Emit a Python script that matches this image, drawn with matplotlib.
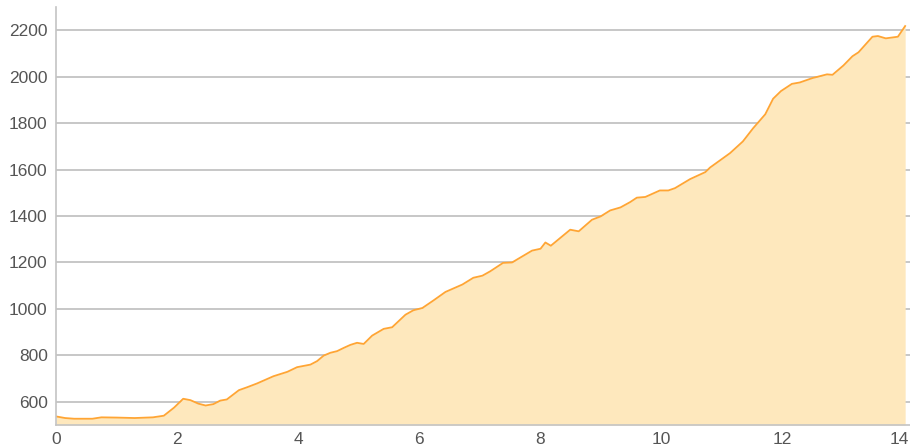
import matplotlib.pyplot as plt
import matplotlib.transforms as mtransforms

# --- Elevation profile (distance in km, elevation in m) ---
distance = [0.00, 0.15, 0.30, 0.60, 0.75, 1.00, 1.30, 1.60, 1.78, 1.95,
            2.10, 2.22, 2.35, 2.47, 2.60, 2.71, 2.82, 2.92, 3.02, 3.16,
            3.32, 3.59, 3.82, 3.98, 4.20, 4.31, 4.42, 4.53, 4.64, 4.75,
            4.86, 4.97, 5.08, 5.22, 5.41, 5.55, 5.77, 5.90, 6.05, 6.23,
            6.43, 6.71, 6.89, 7.04, 7.17, 7.38, 7.53, 7.86, 8.00, 8.08,
            8.17, 8.49, 8.63, 8.85, 8.99, 9.15, 9.32, 9.48, 9.59, 9.73,
            9.97, 10.11, 10.22, 10.47, 10.72, 10.80, 10.96, 11.13, 11.34, 11.51,
            11.71, 11.84, 11.97, 12.15, 12.28, 12.49, 12.73, 12.82, 13.00, 13.15,
            13.25, 13.48, 13.57, 13.70, 13.90, 14.02]
elevation = [537, 530, 527, 527, 533, 532, 530, 533, 540, 575,
             613, 607, 592, 584, 590, 605, 610, 630, 650, 663,
             679, 710, 729, 749, 760, 775, 799, 811, 818, 832,
             845, 854, 849, 885, 914, 921, 975, 994, 1004, 1036,
             1073, 1105, 1134, 1143, 1162, 1198, 1200, 1251, 1259, 1286,
             1272, 1341, 1334, 1384, 1398, 1424, 1437, 1460, 1479, 1482,
             1510, 1510, 1520, 1559, 1589, 1609, 1639, 1671, 1721, 1778,
             1838, 1905, 1938, 1969, 1975, 1994, 2010, 2008, 2048, 2088,
             2105, 2172, 2175, 2165, 2172, 2218]

x_ticks = [0, 2, 4, 6, 8, 10, 12, 14]
y_ticks = [600, 800, 1000, 1200, 1400, 1600, 1800, 2000, 2200]

plt.rcParams['font.family'] = ['Liberation Sans', 'DejaVu Sans']

fig = plt.figure(figsize=(9.1, 4.46), dpi=100)
ax = fig.add_axes([56 / 910, 21 / 446, 854 / 910, 418 / 446])

ax.fill_between(distance, elevation, 500, color="#fee8bd", linewidth=0, zorder=2)
ax.plot(distance, elevation, color="#ffa534", linewidth=1.3, zorder=3)

ax.set_xlim(0, 14.1)
ax.set_ylim(500, 2300)
ax.set_xticks(x_ticks)
ax.set_yticks(y_ticks)

ax.grid(axis='y', color="#bdbdbd", linewidth=1.2, zorder=1)
ax.set_axisbelow(True)
for side in ("top", "right"):
    ax.spines[side].set_visible(False)
for side in ("left", "bottom"):
    ax.spines[side].set_color("#c4c4c4")
    ax.spines[side].set_linewidth(1.2)
    ax.spines[side].set_zorder(4)

ax.tick_params(length=0, labelsize=12.5, labelcolor="#555555")
ax.tick_params(axis='y', pad=6)
ax.tick_params(axis='x', pad=5)

# nudge the last distance label so it stays inside the figure
last = ax.get_xticklabels()[-1]
last.set_transform(last.get_transform() +
                   mtransforms.ScaledTranslation(-5 / 100, 0, fig.dpi_scale_trans))

fig.savefig("out.png", dpi=100)
